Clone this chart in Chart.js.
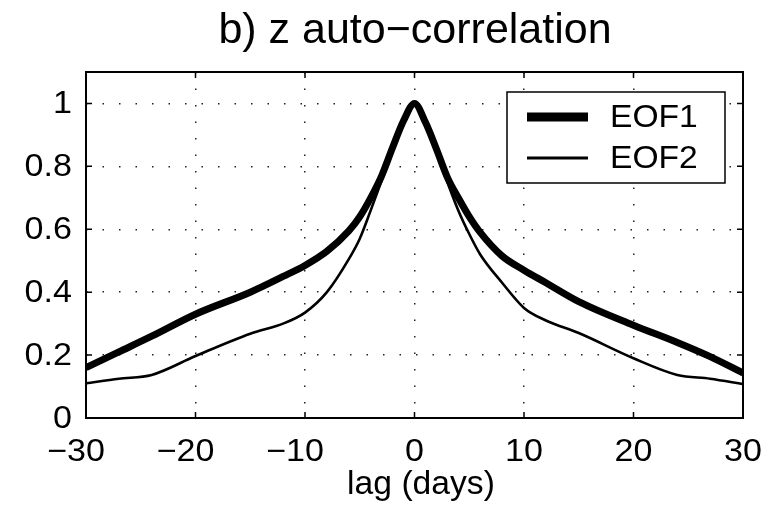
<!DOCTYPE html>
<html>
<head>
<meta charset="utf-8">
<script src="https://cdn.jsdelivr.net/npm/chart.js@4.4.0/dist/chart.umd.min.js"></script>
<style>
  html, body { margin: 0; padding: 0; background: #fff; }
  #wrap { width: 769px; height: 509px; position: relative; }
</style>
</head>
<body>
<div id="wrap"><canvas id="acf" width="769" height="509"></canvas></div>
<script>
// lag in days and auto-correlation values
const lags = [-30, -27, -24, -20, -15, -12, -10, -8, -6, -5, -4, -3, -2, -1, 0,
              1, 2, 3, 4, 5, 6, 8, 10, 12, 15, 20, 24, 27, 30];
const eof1 = [0.16, 0.21, 0.26, 0.33, 0.40, 0.45, 0.485, 0.53, 0.595, 0.64, 0.70, 0.77, 0.86, 0.945, 1.0,
              0.94, 0.855, 0.765, 0.70, 0.64, 0.59, 0.515, 0.47, 0.43, 0.37, 0.295, 0.24, 0.195, 0.143];
const eof2 = [0.11, 0.125, 0.137, 0.197, 0.268, 0.30, 0.335, 0.40, 0.505, 0.57, 0.66, 0.755, 0.855, 0.94, 1.0,
              0.935, 0.845, 0.75, 0.66, 0.585, 0.52, 0.43, 0.35, 0.31, 0.27, 0.19, 0.137, 0.125, 0.108];

const xTicks = [-30, -20, -10, 0, 10, 20, 30];
const yTicks = [0, 0.2, 0.4, 0.6, 0.8, 1];

const FONT = "'Liberation Sans', Arial, Helvetica, sans-serif";
const MINUS = "\u2212";

function toPoints(ys) {
    return lags.map((x, i) => ({ x: x, y: ys[i] }));
}

// text slightly wider than the stock font, like the scanned figure
function wideText(ctx, txt, x, y, align, stretch) {
    ctx.save();
    ctx.translate(x, y);
    ctx.scale(stretch, 1);
    ctx.textAlign = align;
    ctx.fillText(txt, 0, 0);
    ctx.restore();
}

// box, inward tick marks, labels, title and legend (matlab style)
const decor = {
    id: "decor",
    afterDatasetsDraw(chart) {
        const ctx = chart.ctx;
        const a = chart.chartArea;
        const xs = chart.scales.x, ys = chart.scales.y;
        ctx.save();
        ctx.strokeStyle = "#000";
        ctx.lineWidth = 2;
        ctx.strokeRect(a.left, a.top, a.right - a.left, a.bottom - a.top);

        ctx.lineWidth = 1.5;
        ctx.beginPath();
        xTicks.forEach(v => {
            const px = xs.getPixelForValue(v);
            ctx.moveTo(px, a.bottom); ctx.lineTo(px, a.bottom - 6);
            ctx.moveTo(px, a.top); ctx.lineTo(px, a.top + 6);
        });
        yTicks.forEach(v => {
            const py = ys.getPixelForValue(v);
            ctx.moveTo(a.left, py); ctx.lineTo(a.left + 6, py);
            ctx.moveTo(a.right, py); ctx.lineTo(a.right - 6, py);
        });
        ctx.stroke();

        ctx.fillStyle = "#000";
        ctx.textBaseline = "middle";
        ctx.font = "31px " + FONT;
        const st = 1.1;
        // x tick labels, digits centred on the tick, minus hangs left
        xTicks.forEach(v => {
            const px = xs.getPixelForValue(v);
            const txt = v < 0 ? MINUS + Math.abs(v) : String(v);
            const shift = v < 0 ? ctx.measureText(MINUS).width * st / 2 : 0;
            wideText(ctx, txt, px - shift, 452, "center", st);
        });
        // y tick labels
        yTicks.forEach(v => {
            const py = ys.getPixelForValue(v);
            wideText(ctx, String(Math.round(v * 10) / 10), 72, py + 1, "right", st);
        });

        // axis title and chart title
        ctx.textBaseline = "alphabetic";
        ctx.font = "33px " + FONT;
        wideText(ctx, "lag (days)", 421, 494, "center", 1.02);
        ctx.font = "43px " + FONT;
        wideText(ctx, "b) z auto" + MINUS + "correlation", 415, 43, "center", 1.0);

        // legend
        const lx = 507, ly = 92, lw = 218, lh = 91;
        ctx.fillStyle = "#fff";
        ctx.fillRect(lx, ly, lw, lh);
        ctx.strokeStyle = "#000";
        ctx.lineWidth = 1.5;
        ctx.strokeRect(lx, ly, lw, lh);
        ctx.font = "32px " + FONT;
        ctx.textBaseline = "middle";
        chart.data.datasets.forEach((ds, i) => {
            const yy = 117 + i * 41;
            ctx.strokeStyle = "#000";
            ctx.lineWidth = i === 0 ? 9 : 3;
            ctx.beginPath();
            ctx.moveTo(527, yy); ctx.lineTo(588, yy);
            ctx.stroke();
            ctx.fillStyle = "#000";
            wideText(ctx, ds.label, 610, yy + 1, "left", 1.05);
        });
        ctx.restore();
    }
};

new Chart(document.getElementById("acf"), {
    type: "line",
    data: {
        datasets: [
            { label: "EOF1", data: toPoints(eof1), borderColor: "#000", borderWidth: 7,
              pointRadius: 0, fill: false, cubicInterpolationMode: "monotone" },
            { label: "EOF2", data: toPoints(eof2), borderColor: "#000", borderWidth: 2.6,
              pointRadius: 0, fill: false, cubicInterpolationMode: "monotone" }
        ]
    },
    options: {
        responsive: false,
        animation: false,
        layout: { padding: { top: 72, right: 26, left: 0, bottom: 0 } },
        plugins: { legend: { display: false }, tooltip: { enabled: false } },
        scales: {
            x: {
                type: "linear",
                min: -30, max: 30,
                afterBuildTicks: s => { s.ticks = xTicks.map(v => ({ value: v })); },
                afterFit: s => { s.height = 91; },
                grid: { color: "#222", lineWidth: 1.5, drawTicks: false },
                border: { display: false, dash: [1.5, 15] },
                ticks: { display: false }
            },
            y: {
                min: 0, max: 1.1,
                afterBuildTicks: s => { s.ticks = yTicks.map(v => ({ value: v })); },
                afterFit: s => { s.width = 86; },
                grid: { color: "#222", lineWidth: 1.5, drawTicks: false },
                border: { display: false, dash: [1.5, 15] },
                ticks: { display: false }
            }
        }
    },
    plugins: [decor]
});
</script>
</body>
</html>
